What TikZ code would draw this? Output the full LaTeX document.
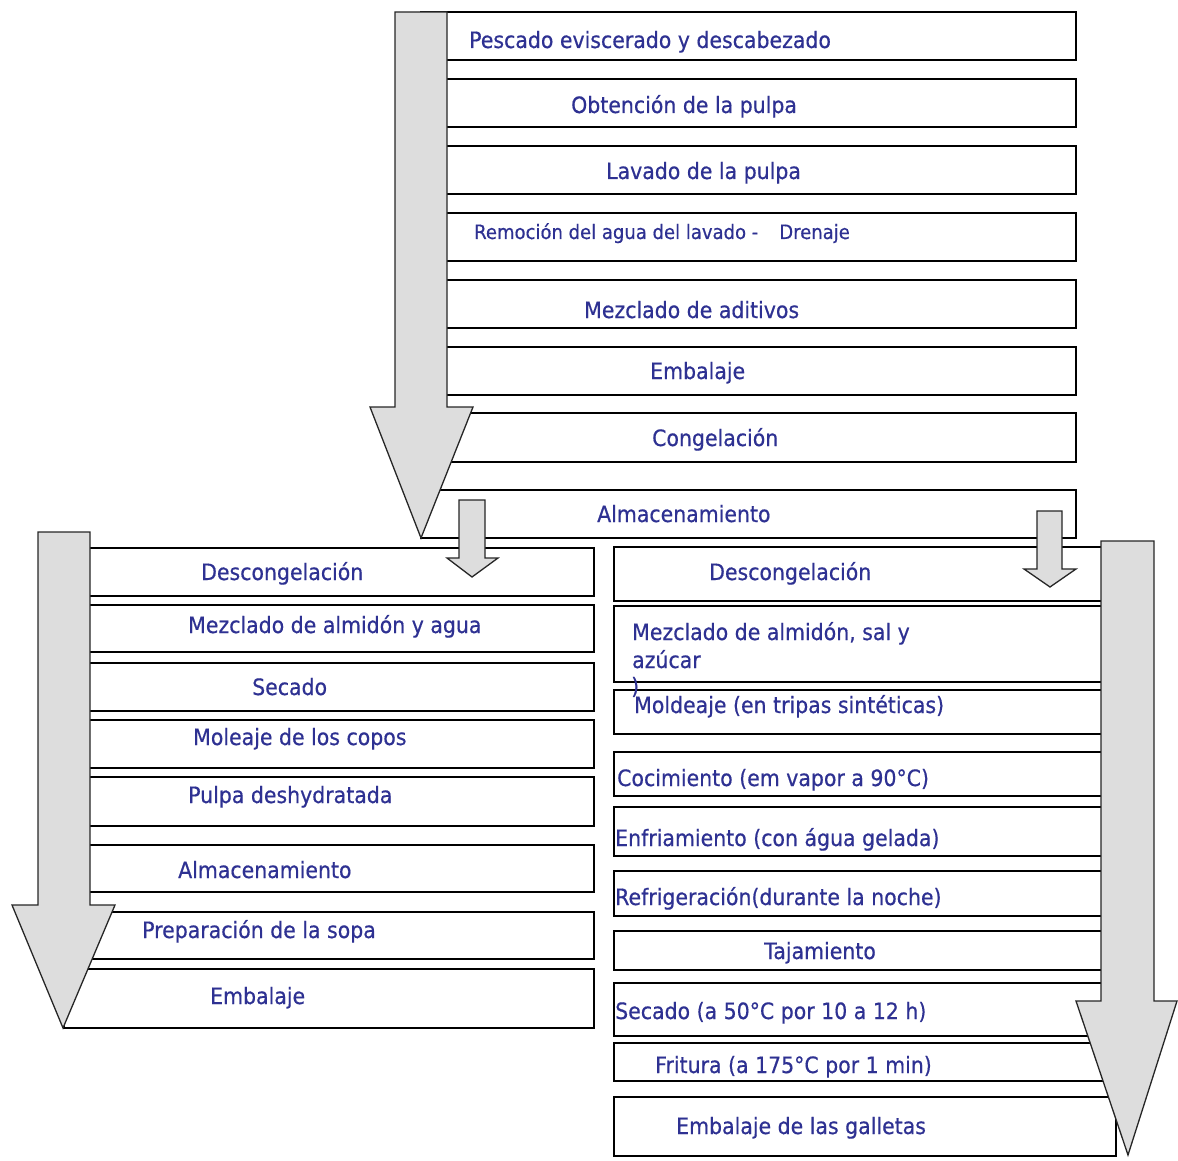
\documentclass[tikz,border=0pt]{standalone}
\usepackage{fontspec}
\setmainfont{DejaVu Sans}[FakeStretch=0.91,FakeBold=0.5]
\usetikzlibrary{fit}
\definecolor{txtblue}{RGB}{46,49,146}
\definecolor{arrfill}{RGB}{221,221,221}
\begin{document}
\begin{tikzpicture}[x=1pt,y=-1pt,
  boxst/.style={draw=black, line width=1.8pt, inner sep=0pt, fill=white},
  txt/.style={anchor=base west, inner sep=0pt, text=txtblue, font=\fontsize{22.5}{27}\selectfont},
  stxt/.style={txt, font=\fontsize{19.8}{23}\selectfont},
  bigarr/.style={draw=black!85, line width=1.3pt, fill=arrfill, line join=miter}]
\useasboundingbox (0,0) rectangle (1178,1161);
% ---- top column boxes
\node[boxst, fit={(421,12) (1076,60)}]   (T1) {};
\node[boxst, fit={(421,79) (1076,127)}]  (T2) {};
\node[boxst, fit={(421,146) (1076,194)}] (T3) {};
\node[boxst, fit={(421,213) (1076,261)}] (T4) {};
\node[boxst, fit={(421,280) (1076,328)}] (T5) {};
\node[boxst, fit={(421,347) (1076,395)}] (T6) {};
\node[boxst, fit={(421,413) (1076,462)}] (T7) {};
\node[boxst, fit={(421,490) (1076,538)}] (T8) {};
% ---- left column boxes
\node[boxst, fit={(64,548) (594,596)}]  (L1) {};
\node[boxst, fit={(64,605) (594,652)}]  (L2) {};
\node[boxst, fit={(64,663) (594,711)}]  (L3) {};
\node[boxst, fit={(64,720) (594,768)}]  (L4) {};
\node[boxst, fit={(64,777) (594,826)}]  (L5) {};
\node[boxst, fit={(64,845) (594,892)}]  (L6) {};
\node[boxst, fit={(64,912) (594,959)}]  (L7) {};
\node[boxst, fit={(64,969) (594,1028)}] (L8) {};
% ---- right column boxes
\node[boxst, fit={(614,547) (1116,601)}]   (R1) {};
\node[boxst, fit={(614,606) (1116,682)}]   (R2) {};
\node[boxst, fit={(614,690) (1116,734)}]   (R3) {};
\node[boxst, fit={(614,752) (1116,796)}]   (R4) {};
\node[boxst, fit={(614,807) (1116,856)}]   (R5) {};
\node[boxst, fit={(614,871) (1116,916)}]   (R6) {};
\node[boxst, fit={(614,931) (1116,970)}]   (R7) {};
\node[boxst, fit={(614,983) (1116,1036)}]  (R8) {};
\node[boxst, fit={(614,1043) (1116,1081)}] (R9) {};
\node[boxst, fit={(614,1097) (1116,1156)}] (R10) {};
% ---- texts top
\node[txt] (tT1) at (469,48)  {Pescado eviscerado y descabezado};
\node[txt] (tT2) at (571,113) {Obtención de la pulpa};
\node[txt] (tT3) at (606,179) {Lavado de la pulpa};
\node[stxt] (tT4) at (474,239) {Remoción del agua del lavado -\hspace{21pt}Drenaje};
\node[txt] (tT5) at (584,318) {Mezclado de aditivos};
\node[txt] (tT6) at (650,379) {Embalaje};
\node[txt] (tT7) at (652,446) {Congelación};
\node[txt] (tT8) at (597,522) {Almacenamiento};
% ---- texts left
\node[txt] (tL1) at (201,580)  {Descongelación};
\node[txt] (tL2) at (188,633)  {Mezclado de almidón y agua};
\node[txt] (tL3) at (252,695)  {Secado};
\node[txt] (tL4) at (193,745)  {Moleaje de los copos};
\node[txt] (tL5) at (188,803)  {Pulpa deshydratada};
\node[txt] (tL6) at (178,878)  {Almacenamiento};
\node[txt] (tL7) at (142,938)  {Preparación de la sopa};
\node[txt] (tL8) at (210,1004) {Embalaje};
% ---- texts right
\node[txt] (tR1) at (709,580)  {Descongelación};
\node[txt] (tR2a) at (632,640) {Mezclado de almidón, sal y};
\node[txt] (tR2b) at (632,668) {azúcar};
\node[txt] (tR2c) at (631,694) {)};
\node[txt] (tR3) at (634,713)  {Moldeaje (en tripas sintéticas)};
\node[txt] (tR4) at (617,786)  {Cocimiento (em vapor a 90°C)};
\node[txt] (tR5) at (615,846)  {Enfriamiento (con água gelada)};
\node[txt] (tR6) at (615,905)  {Refrigeración(durante la noche)};
\node[txt] (tR7) at (764,959)  {Tajamiento};
\node[txt] (tR8) at (615,1019) {Secado (a 50°C por 10 a 12 h)};
\node[txt] (tR9) at (655,1073) {Fritura (a 175°C por 1 min)};
\node[txt] (tR10) at (676,1134) {Embalaje de las galletas};
% ---- block arrows
\draw[bigarr] (395,12) -- (447,12) -- (447,407) -- (473,407) -- (421,538) -- (370,407) -- (395,407) -- cycle;
\draw[bigarr] (459,500) -- (485,500) -- (485,558) -- (498,558) -- (472,577) -- (447,558) -- (459,558) -- cycle;
\draw[bigarr] (38,532) -- (90,532) -- (90,905) -- (115,905) -- (63,1028) -- (12,905) -- (38,905) -- cycle;
\draw[bigarr] (1037,511) -- (1062,511) -- (1062,569) -- (1076,569) -- (1050,587) -- (1024,569) -- (1037,569) -- cycle;
\draw[bigarr] (1101,541) -- (1154,541) -- (1154,1001) -- (1177,1001) -- (1128,1155) -- (1076,1001) -- (1101,1001) -- cycle;
\end{tikzpicture}
\end{document}
